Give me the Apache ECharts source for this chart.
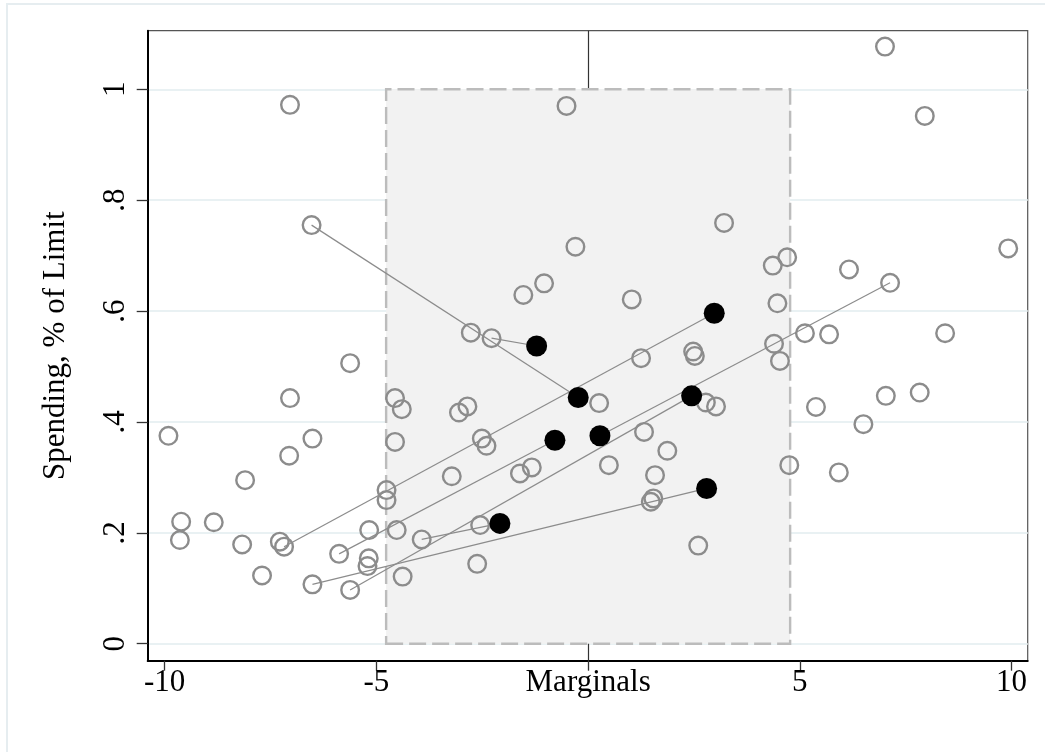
<!DOCTYPE html>
<html>
<head>
<meta charset="utf-8">
<script src="https://cdn.jsdelivr.net/npm/echarts@6/dist/echarts.min.js"></script>
<style>
html,body{margin:0;padding:0;background:#fff;}
#chart{width:1045px;height:752px;}
</style>
</head>
<body>
<div id="chart"></div>
<script>
// ---- data ----
const xTicks = [-10, -5, 0, 5, 10];
const xTickLabels = ['-10', '-5', 'Marginals', '5', '10'];
const yTicks = [0, 0.2, 0.4, 0.6, 0.8, 1];
const yTickLabels = ['0', '.2', '.4', '.6', '.8', '1'];
const yTitle = 'Spending, % of Limit';
const bandX = [-4.77, 4.77];
const bandY = [0, 1];
const refLineX = 0;

const hollowPoints = [
  [-7.04, 0.972], [-6.53, 0.755], [-5.62, 0.506], [-7.04, 0.443], [-9.91, 0.375],
  [-6.51, 0.370], [-7.06, 0.339], [-8.10, 0.295], [-9.61, 0.220], [-8.84, 0.219],
  [-9.64, 0.187], [-8.17, 0.179], [-7.28, 0.184], [-7.18, 0.175], [-7.70, 0.123],
  [-6.51, 0.107], [-5.62, 0.097], [-5.88, 0.162], [-5.18, 0.154], [-5.21, 0.140],
  [-5.17, 0.205], [-4.76, 0.277], [-4.76, 0.259], [-4.56, 0.443], [-4.40, 0.423],
  [-4.56, 0.364], [-4.52, 0.205], [-4.38, 0.121], [-3.93, 0.188], [-3.22, 0.302],
  [-3.05, 0.417], [-2.85, 0.428], [-2.51, 0.370], [-2.40, 0.357], [-2.55, 0.214],
  [-2.62, 0.144], [-1.61, 0.307], [-1.33, 0.318], [0.26, 0.434], [0.49, 0.322],
  [1.32, 0.382], [1.87, 0.348], [1.58, 0.304], [1.54, 0.262], [1.48, 0.256],
  [2.60, 0.177], [2.78, 0.435], [3.02, 0.428], [4.75, 0.322], [-0.51, 0.970],
  [-0.30, 0.716], [-1.53, 0.629], [-1.04, 0.650], [1.03, 0.621], [3.21, 0.759],
  [4.36, 0.682], [4.70, 0.697], [4.47, 0.614], [-2.77, 0.561], [-2.28, 0.551],
  [1.25, 0.515], [2.48, 0.527], [2.52, 0.519], [4.39, 0.541], [4.53, 0.510],
  [5.12, 0.560], [7.01, 1.077], [7.95, 0.952], [9.92, 0.713], [6.16, 0.675],
  [7.13, 0.651], [5.69, 0.558], [8.43, 0.560], [5.38, 0.427], [6.50, 0.396],
  [7.03, 0.447], [7.83, 0.453], [5.92, 0.309]
];

const filledPoints = [
  [-1.216, 0.537], [-0.234, 0.444], [-0.784, 0.367], [0.279, 0.375],
  [2.444, 0.447], [2.978, 0.596], [2.798, 0.280], [-2.083, 0.217]
];

const paths = [
  [[-6.53, 0.755], [-0.234, 0.444]],
  [[-2.28, 0.551], [-1.216, 0.537]],
  [[-7.18, 0.175], [2.978, 0.596]],
  [[-5.88, 0.162], [-0.784, 0.367]],
  [[-6.51, 0.107], [2.798, 0.280]],
  [[-5.62, 0.097], [2.444, 0.447]],
  [[0.279, 0.375], [7.13, 0.651]],
  [[-3.93, 0.188], [-2.083, 0.217]]
];

// ---- chart ----
const FONT = "'Liberation Serif', 'Times New Roman', serif";
const GREY = '#8c8c8c';

const chart = echarts.init(document.getElementById('chart'), null, {renderer: 'canvas'});

const lineSeries = paths.map(p => ({
  type: 'line',
  data: p,
  symbol: 'none',
  z: 3,
  silent: true,
  lineStyle: {color: GREY, width: 1.2},
  animation: false
}));

const option = {
  backgroundColor: '#ffffff',
  animation: false,
  grid: {
    left: 147.7, top: 30.7, width: 880, height: 630,
    show: true, borderColor: '#555555', borderWidth: 1.2,
    backgroundColor: 'transparent',
    outerBoundsMode: 'none', containLabel: false
  },
  xAxis: {
    type: 'value', min: -10.4, max: 10.38,
    axisLine: {show: true, onZero: false, lineStyle: {color: '#000', width: 2}},
    axisTick: {show: true, length: 10, customValues: xTicks, lineStyle: {color: '#333', width: 1.3}},
    axisLabel: {
      show: true, customValues: xTicks, margin: 7,
      fontFamily: FONT, fontSize: 31, color: '#000',
      formatter: v => { const i = xTicks.indexOf(v); return i >= 0 ? xTickLabels[i] : ''; }
    },
    splitLine: {show: false}
  },
  yAxis: {
    type: 'value', min: -0.0307, max: 1.1057,
    axisLine: {show: true, onZero: false, lineStyle: {color: '#000', width: 2}},
    axisTick: {show: true, length: 11, customValues: yTicks, lineStyle: {color: '#333', width: 1.3}},
    axisLabel: {
      show: true, customValues: yTicks, margin: 16, rotate: 90,
      fontFamily: FONT, fontSize: 31, color: '#000',
      formatter: v => { const i = yTicks.findIndex(t => Math.abs(t - v) < 1e-9); return i >= 0 ? yTickLabels[i] : ''; }
    },
    splitLine: {show: false}
  },
  graphic: [
    {
      type: 'rect', silent: true, z: -10,
      shape: {x: 7, y: 4, width: 1100, height: 800},
      style: {fill: 'none', stroke: '#e6edf0', lineWidth: 2}
    },
    {
      type: 'text', silent: true,
      x: 56, y: 345.7, rotation: Math.PI / 2,
      style: {text: yTitle, fontFamily: FONT, fontSize: 31, fill: '#000', align: 'center', verticalAlign: 'middle'}
    }
  ],
  series: [
    {
      type: 'scatter', data: [], z: 0, silent: true,
      markLine: {
        z: 0, silent: true, symbol: ['none', 'none'], animation: false,
        label: {show: false}, emphasis: {disabled: true},
        lineStyle: {color: '#e9f1f3', width: 2, type: 'solid'},
        data: yTicks.map(v => ({yAxis: v}))
      }
    },
    {
      type: 'scatter', data: [], z: 1, silent: true,
      markLine: {
        z: 1, silent: true, symbol: ['none', 'none'], animation: false,
        label: {show: false}, emphasis: {disabled: true},
        lineStyle: {color: '#333333', width: 1.2, type: 'solid'},
        data: [{xAxis: refLineX}]
      }
    },
    {
      type: 'scatter', data: [], z: 2, silent: true,
      markArea: {
        z: 2, silent: true, animation: false, emphasis: {disabled: true},
        itemStyle: {color: '#f2f2f2', borderColor: '#bcbcbc', borderWidth: 2.4, borderType: [17, 6]},
        data: [[{xAxis: bandX[0], yAxis: bandY[0]}, {xAxis: bandX[1], yAxis: bandY[1]}]]
      }
    },
    ...lineSeries,
    {
      type: 'scatter', data: hollowPoints, z: 4, silent: true,
      symbol: 'circle', symbolSize: 17.6,
      itemStyle: {color: 'rgba(0,0,0,0)', borderColor: GREY, borderWidth: 2.4, opacity: 1}
    },
    {
      type: 'scatter', data: filledPoints, z: 5, silent: true,
      symbol: 'circle', symbolSize: 21,
      itemStyle: {color: '#000000', opacity: 1}
    }
  ]
};
chart.setOption(option);
</script>
</body>
</html>
